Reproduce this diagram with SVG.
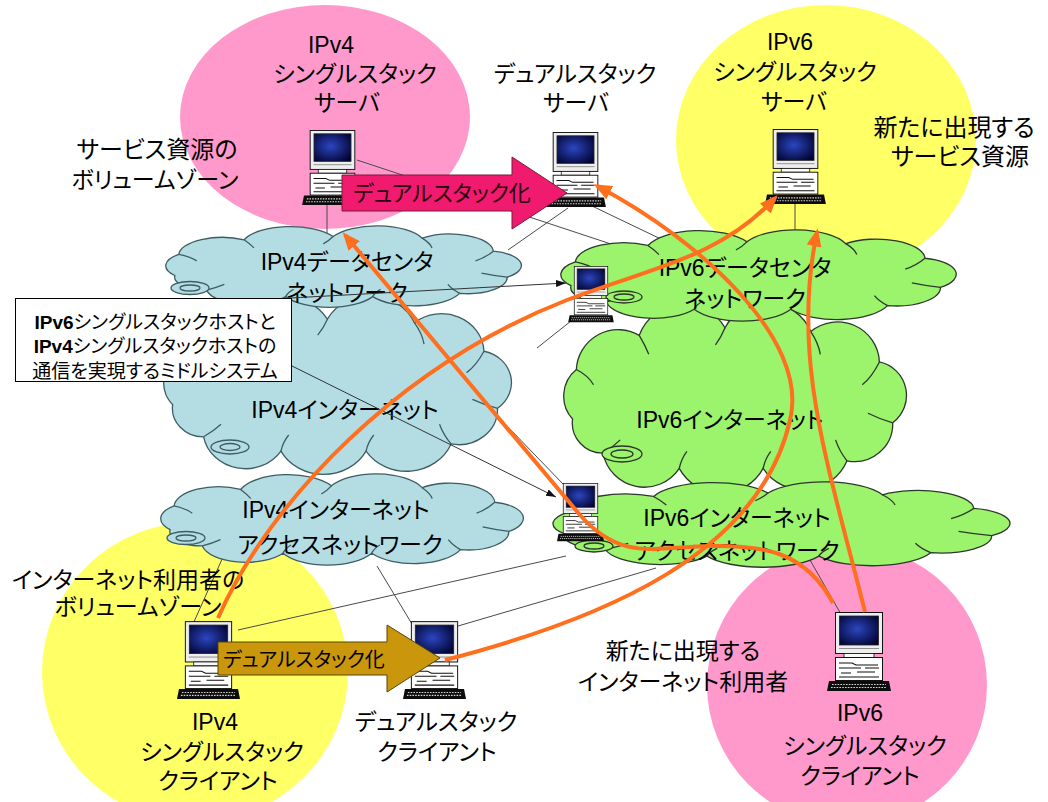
<svg xmlns="http://www.w3.org/2000/svg" width="1048" height="802" viewBox="0 0 1048 802">
<defs>
<style>
  .t{font-family:"Liberation Sans","Noto Sans CJK JP",sans-serif;font-size:23px;fill:#000;text-anchor:middle;font-feature-settings:"palt" 1;}
  .bx{font-size:19px}
  .link{stroke:#4a4a4a;stroke-width:1;fill:none}
  .call{stroke:#333;stroke-width:1;fill:none;marker-end:url(#bh)}
  .flow{stroke:#ff6f1e;stroke-width:4;fill:none;marker-end:url(#oh)}
  .c4{fill:#b3dde3;stroke:#3e5d63;stroke-width:1.3}
  .c6{fill:#9cf36c;stroke:#2c382c;stroke-width:1.3}
</style>
<radialGradient id="scr" cx="0.45" cy="0.45" r="0.7">
  <stop offset="0" stop-color="#2b46c0"/>
  <stop offset="1" stop-color="#00002a"/>
</radialGradient>
<!-- generic cloud outline, stretched per use -->
<symbol id="cloud" viewBox="15 -1 181 101" preserveAspectRatio="none" overflow="visible">
  <path vector-effect="non-scaling-stroke" d="M20,60 A18,18 0 0 1 22,34 A22,22 0 0 1 55,16 A25,25 0 0 1 100,12 A25,25 0 0 1 145,14 A22,22 0 0 1 181,30 A18,18 0 0 1 188,62 A20,20 0 0 1 164,82 A25,25 0 0 1 120,86 A25,25 0 0 1 76,86 A22,22 0 0 1 36,78 A16,16 0 0 1 20,60 Z"/>
  <path vector-effect="non-scaling-stroke" fill="none" d="M22,34 Q28,37 31,42 M55,16 Q58,21 60,26 M100,12 Q98,17 95,21 M145,14 Q149,20 150,26 M181,30 Q177,38 172,42 M188,62 Q181,60 175,57 M164,82 Q160,77 158,71 M120,86 Q121,81 124,77 M76,86 Q77,81 80,77 M36,78 Q41,75 45,71"/>
</symbol>
<!-- desktop computer -->
<symbol id="pc" viewBox="0 0 64 80">
  <rect x="8.5" y="0.5" width="47" height="41" fill="#eeeeee" stroke="#111"/>
  <rect x="12.5" y="4" width="39" height="29" fill="url(#scr)" stroke="#222" stroke-width="0.8"/>
  <path d="M12 36.5h40" stroke="#777" stroke-width="0.8"/>
  <rect x="17" y="41.5" width="30" height="4" fill="#fafafa" stroke="#111" stroke-width="0.8"/>
  <rect x="8.5" y="45.5" width="47" height="23" fill="#fff" stroke="#111"/>
  <path d="M12 51h13l4 2h22M12 56h22M38 56h14M14 61h10M30 60h18M12 65h40" stroke="#111" stroke-width="1.1" fill="none"/>
  <path d="M2 69h60l2 10H0z" fill="#0c0c0c"/>
  <path d="M5 72.5h54M4 75.5h56" stroke="#d8d8d8" stroke-width="1.2" stroke-dasharray="1.6 1.2"/>
</symbol>
<marker id="oh" viewBox="0 0 10 10" refX="8" refY="5" markerWidth="18" markerHeight="15" markerUnits="userSpaceOnUse" orient="auto" preserveAspectRatio="none">
  <path d="M0,0 L10,5 L0,10 Z" fill="#ff6f1e"/>
</marker>
<marker id="bh" viewBox="0 0 10 10" refX="10" refY="5" markerWidth="10" markerHeight="7" markerUnits="userSpaceOnUse" orient="auto" preserveAspectRatio="none">
  <path d="M0,0 L10,5 L0,10 Z" fill="#111"/>
</marker>
</defs>

<rect width="1048" height="802" fill="#fff"/>

<!-- user / service zones -->
<g id="zones">
  <ellipse id="zone-v4-server" cx="325" cy="117" rx="145" ry="112" fill="#ff99cc"/>
  <ellipse id="zone-v6-server" cx="826" cy="140" rx="150" ry="135" fill="#ffff66"/>
  <ellipse id="zone-v4-client" cx="195" cy="672" rx="153" ry="150" fill="#ffff66"/>
  <ellipse id="zone-v6-client" cx="847" cy="685" rx="140" ry="140" fill="#ff99cc"/>
</g>

<!-- plain network links -->
<g id="links">
  <path class="link" d="M357,160 L620,247"/>
  <path class="link" d="M592,206 L665,241"/>
  <path class="link" d="M568,208 L508,250"/>
  <path class="link" d="M795,204 V242"/>
  <path class="link" d="M327,204 V240"/>
  <path class="link" d="M537,348 L571,321"/>
  <path class="link" d="M508,427 L563,484"/>
  <path class="link" d="M223,557 L193,624"/>
  <path class="link" d="M377,566 L412,624"/>
  <path class="link" d="M238,630 L566,556"/>
  <path class="link" d="M458,626 L656,568"/>
  <path class="link" d="M842,616 L810,560"/>
</g>

<!-- IPv4 networks -->
<g id="v4-internet">
  <use href="#cloud" class="c4" x="163" y="296" width="350" height="180"/>
  <ellipse cx="230" cy="447" rx="19" ry="7" class="c4"/>
  <ellipse cx="230" cy="447" rx="10" ry="3.5" class="c4"/>
  <text class="t" x="345" y="418">IPv4インターネット</text>
</g>
<g id="v4-datacenter">
  <use href="#cloud" class="c4" x="165" y="226" width="358" height="82"/>
  <ellipse cx="190" cy="288" rx="19" ry="6.5" class="c4"/>
  <ellipse cx="190" cy="288" rx="10" ry="3" class="c4"/>
  <text class="t" x="347" y="270">IPv4データセンタ</text>
  <text class="t" x="347" y="301">ネットワーク</text>
</g>
<g id="v4-access">
  <use href="#cloud" class="c4" x="160" y="474" width="365" height="92"/>
  <ellipse cx="186" cy="538" rx="19" ry="6.5" class="c4"/>
  <ellipse cx="186" cy="538" rx="10" ry="3" class="c4"/>
  <text class="t" x="336" y="518">IPv4インターネット</text>
  <text class="t" x="340" y="553">アクセスネットワーク</text>
</g>

<!-- IPv6 networks -->
<g id="v6-internet">
  <use href="#cloud" class="c6" x="563" y="303" width="345" height="192"/>
  <ellipse cx="622" cy="454" rx="20" ry="8" class="c6"/>
  <ellipse cx="622" cy="454" rx="11" ry="4" class="c6"/>
  <text class="t" x="730" y="428">IPv6インターネット</text>
</g>
<g id="v6-datacenter">
  <use href="#cloud" class="c6" x="560" y="230" width="398" height="92"/>
  <ellipse cx="624" cy="297" rx="18" ry="6" class="c6"/>
  <ellipse cx="624" cy="297" rx="10" ry="3" class="c6"/>
  <text class="t" x="745" y="276">IPv6データセンタ</text>
  <text class="t" x="745" y="307">ネットワーク</text>
</g>
<g id="v6-access">
  <use href="#cloud" class="c6" x="552" y="482" width="460" height="86"/>
  <ellipse cx="594" cy="546" rx="19" ry="6" class="c6"/>
  <ellipse cx="594" cy="546" rx="10" ry="3" class="c6"/>
  <text class="t" x="737" y="526">IPv6インターネット</text>
  <text class="t" x="737" y="559">アクセスネットワーク</text>
</g>

<!-- hosts -->
<g id="v4-server">
  <use href="#pc" x="302" y="130" width="61" height="76"/>
  <text class="t" x="331" y="53">IPv4</text>
  <text class="t" x="355" y="82">シングルスタック</text>
  <text class="t" x="347" y="111">サーバ</text>
</g>
<g id="dual-server">
  <use href="#pc" x="545" y="132" width="61" height="76"/>
  <text class="t" x="575" y="82">デュアルスタック</text>
  <text class="t" x="576" y="111">サーバ</text>
</g>
<g id="v6-server">
  <use href="#pc" x="765" y="129" width="61" height="76"/>
  <text class="t" x="790" y="50">IPv6</text>
  <text class="t" x="795" y="80">シングルスタック</text>
  <text class="t" x="794" y="110">サーバ</text>
</g>
<g id="middle-1">
  <use href="#pc" x="568" y="266" width="46" height="57"/>
</g>
<g id="middle-2">
  <use href="#pc" x="557" y="483" width="47" height="59"/>
</g>
<g id="v4-client">
  <use href="#pc" x="177" y="621" width="63" height="79"/>
  <text class="t" x="215" y="730">IPv4</text>
  <text class="t" x="222" y="760">シングルスタック</text>
  <text class="t" x="218" y="789">クライアント</text>
</g>
<g id="dual-client">
  <use href="#pc" x="403" y="621" width="63" height="79"/>
  <text class="t" x="436" y="730">デュアルスタック</text>
  <text class="t" x="437" y="760">クライアント</text>
</g>
<g id="v6-client">
  <use href="#pc" x="827" y="612" width="64" height="80"/>
  <text class="t" x="860" y="721">IPv6</text>
  <text class="t" x="865" y="754">シングルスタック</text>
  <text class="t" x="860" y="784">クライアント</text>
</g>

<!-- zone captions -->
<g id="captions">
  <text class="t" x="157" y="158" style="font-size:24px">サービス資源の</text>
  <text class="t" x="155" y="188">ボリュームゾーン</text>
  <text class="t" x="954" y="136" style="font-size:24px">新たに出現する</text>
  <text class="t" x="960" y="165" style="font-size:24px">サービス資源</text>
  <text class="t" x="128" y="588">インターネット利用者の</text>
  <text class="t" x="138" y="615">ボリュームゾーン</text>
  <text class="t" x="683" y="659">新たに出現する</text>
  <text class="t" x="683" y="690">インターネット利用者</text>
</g>

<!-- middle system note -->
<g id="middle-note">
  <path class="call" d="M290,298 L566,283"/>
  <path class="call" d="M290,365 L556,497"/>
  <rect x="15.5" y="298.5" width="276" height="83" fill="#fff" stroke="#000"/>
  <text class="t bx" x="155" y="329"><tspan font-weight="bold">IPv6</tspan>シングルスタックホストと</text>
  <text class="t bx" x="155" y="353"><tspan font-weight="bold">IPv4</tspan>シングルスタックホストの</text>
  <text class="t bx" x="155" y="378">通信を実現するミドルシステム</text>
</g>

<!-- dual-stack migration arrows -->
<g id="migration">
  <g id="migrate-server">
    <path d="M342,175 H512 V157 L567,193 L512,229 V211 H342 Z" fill="#f01a6e" stroke="#7a1a3a" stroke-width="1"/>
    <text class="t" x="442" y="201" style="font-size:22px;fill:#2a0010">デュアルスタック化</text>
  </g>
  <g id="migrate-client">
    <path d="M218,642 H387 V625 L440,658 L387,692 V675 H218 Z" fill="#c9960c" stroke="#5a4500" stroke-width="1"/>
    <text class="t" x="304" y="667" style="font-size:20px">デュアルスタック化</text>
  </g>
</g>

<!-- communication flows -->
<g id="flows">
  <path class="flow" d="M218,618 C270,500 400,365 567,300 C650,268 720,258 775,198"/>
  <path class="flow" d="M833,603 C805,550 760,545 710,546 C650,548 620,560 580,515 L345,235"/>
  <path class="flow" d="M865,612 C830,470 790,360 817,232"/>
  <path class="flow" d="M445,660 C600,620 760,555 790,420 C810,340 700,240 597,186"/>
</g>
</svg>
